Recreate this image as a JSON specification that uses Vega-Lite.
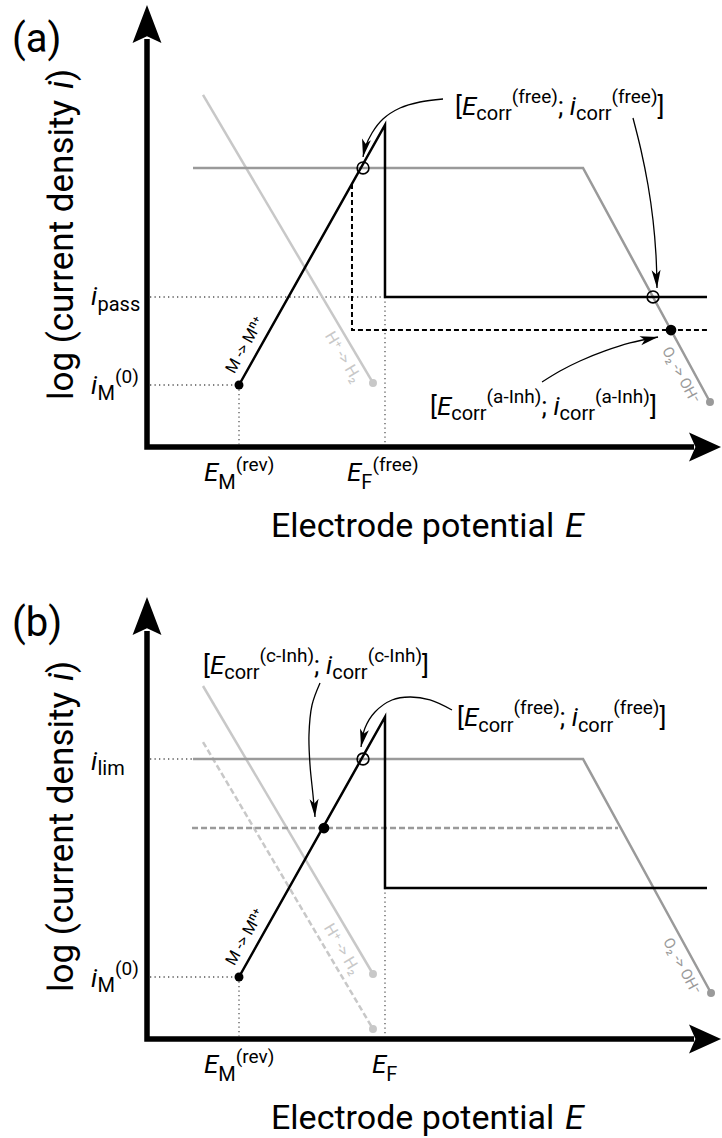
{
"$schema": "https://vega.github.io/schema/vega-lite/v6.json",
"padding": 0,
"background": "white",
"config": {"view": {"stroke": null}, "font": "Roboto"},
"data": {"values": [
{"panel":"a","kind":"axis","grp":"ax","ord":1,"E":0,"L":91.3},
{"panel":"a","kind":"axis","grp":"ax","ord":2,"E":0,"L":0},
{"panel":"a","kind":"axis","grp":"ax","ord":3,"E":95.13,"L":0},
{"panel":"b","kind":"axis","grp":"ax","ord":1,"E":0,"L":91.3},
{"panel":"b","kind":"axis","grp":"ax","ord":2,"E":0,"L":0},
{"panel":"b","kind":"axis","grp":"ax","ord":3,"E":95.13,"L":0},
{"panel":"a","kind":"arrUp","E":0,"L":98.88},
{"panel":"b","kind":"arrUp","E":0,"L":98.88},
{"panel":"a","kind":"arrRight","E":99.83,"L":0},
{"panel":"b","kind":"arrRight","E":99.83,"L":0},

{"panel":"a","kind":"black","grp":"M","ord":1,"E":16.0,"L":13.87},
{"panel":"a","kind":"black","grp":"M","ord":2,"E":41.39,"L":72.04},
{"panel":"a","kind":"black","grp":"M","ord":3,"E":41.39,"L":33.56},
{"panel":"a","kind":"black","grp":"M","ord":4,"E":97.39,"L":33.56},
{"panel":"b","kind":"black","grp":"M","ord":1,"E":16.0,"L":13.87},
{"panel":"b","kind":"black","grp":"M","ord":2,"E":41.39,"L":72.04},
{"panel":"b","kind":"black","grp":"M","ord":3,"E":41.39,"L":33.78},
{"panel":"b","kind":"black","grp":"M","ord":4,"E":97.39,"L":33.78},

{"panel":"a","kind":"gray","grp":"O","ord":1,"E":8.0,"L":62.42},
{"panel":"a","kind":"gray","grp":"O","ord":2,"E":75.83,"L":62.42},
{"panel":"a","kind":"gray","grp":"O","ord":3,"E":97.91,"L":10.07},
{"panel":"b","kind":"gray","grp":"O","ord":1,"E":8.0,"L":62.64},
{"panel":"b","kind":"gray","grp":"O","ord":2,"E":75.83,"L":62.64},
{"panel":"b","kind":"gray","grp":"O","ord":3,"E":98.09,"L":10.29},

{"panel":"a","kind":"lgray","grp":"H","ord":1,"E":9.74,"L":78.75},
{"panel":"a","kind":"lgray","grp":"H","ord":2,"E":39.3,"L":14.32},
{"panel":"b","kind":"lgray","grp":"H","ord":1,"E":9.74,"L":78.97},
{"panel":"b","kind":"lgray","grp":"H","ord":2,"E":39.3,"L":14.54},
{"panel":"b","kind":"lgrayDash","grp":"Hc","ord":1,"E":9.74,"L":66.44},
{"panel":"b","kind":"lgrayDash","grp":"Hc","ord":2,"E":39.3,"L":2.24},
{"panel":"b","kind":"grayDash","grp":"Oc","ord":1,"E":7.83,"L":47.2},
{"panel":"b","kind":"grayDash","grp":"Oc","ord":2,"E":81.91,"L":47.2},
{"panel":"a","kind":"blackDash","grp":"Ma","ord":1,"E":35.65,"L":58.84},
{"panel":"a","kind":"blackDash","grp":"Ma","ord":2,"E":35.65,"L":26.17},
{"panel":"a","kind":"blackDash","grp":"Ma","ord":3,"E":97.39,"L":26.17},

{"panel":"a","kind":"dot","grp":"g1","ord":1,"E":0.52,"L":33.56},
{"panel":"a","kind":"dot","grp":"g1","ord":2,"E":41.39,"L":33.56},
{"panel":"a","kind":"dot","grp":"g2","ord":1,"E":0.52,"L":13.87},
{"panel":"a","kind":"dot","grp":"g2","ord":2,"E":16.0,"L":13.87},
{"panel":"a","kind":"dot","grp":"g3","ord":1,"E":16.0,"L":13.87},
{"panel":"a","kind":"dot","grp":"g3","ord":2,"E":16.0,"L":0.6},
{"panel":"a","kind":"dot","grp":"g4","ord":1,"E":41.39,"L":33.56},
{"panel":"a","kind":"dot","grp":"g4","ord":2,"E":41.39,"L":0.6},
{"panel":"b","kind":"dot","grp":"g1","ord":1,"E":0.52,"L":62.64},
{"panel":"b","kind":"dot","grp":"g1","ord":2,"E":8.0,"L":62.64},
{"panel":"b","kind":"dot","grp":"g2","ord":1,"E":0.52,"L":13.87},
{"panel":"b","kind":"dot","grp":"g2","ord":2,"E":16.0,"L":13.87},
{"panel":"b","kind":"dot","grp":"g3","ord":1,"E":16.0,"L":13.87},
{"panel":"b","kind":"dot","grp":"g3","ord":2,"E":16.0,"L":0.6},
{"panel":"b","kind":"dot","grp":"g4","ord":1,"E":41.39,"L":33.78},
{"panel":"b","kind":"dot","grp":"g4","ord":2,"E":41.39,"L":0.6},

{"panel":"a","kind":"arrow","grp":"a1","ord":1,"E":51.48,"L":77.85},
{"panel":"a","kind":"arrow","grp":"a1","ord":2,"E":47.48,"L":77.18},
{"panel":"a","kind":"arrow","grp":"a1","ord":3,"E":44.0,"L":75.84},
{"panel":"a","kind":"arrow","grp":"a1","ord":4,"E":41.04,"L":73.38},
{"panel":"a","kind":"arrow","grp":"a1","ord":5,"E":39.13,"L":70.25},
{"panel":"a","kind":"arrow","grp":"a1","ord":6,"E":37.91,"L":66.89},
{"panel":"a","kind":"arrow","grp":"a1","ord":7,"E":37.57,"L":64.88},
{"panel":"a","kind":"arrow","grp":"a2","ord":1,"E":84.52,"L":73.6},
{"panel":"a","kind":"arrow","grp":"a2","ord":2,"E":85.91,"L":66.44},
{"panel":"a","kind":"arrow","grp":"a2","ord":3,"E":87.13,"L":58.61},
{"panel":"a","kind":"arrow","grp":"a2","ord":4,"E":88.0,"L":50.78},
{"panel":"a","kind":"arrow","grp":"a2","ord":5,"E":88.52,"L":42.95},
{"panel":"a","kind":"arrow","grp":"a2","ord":6,"E":88.7,"L":35.57},
{"panel":"a","kind":"arrow","grp":"a3","ord":1,"E":68.7,"L":14.54},
{"panel":"a","kind":"arrow","grp":"a3","ord":2,"E":71.83,"L":17.0},
{"panel":"a","kind":"arrow","grp":"a3","ord":3,"E":75.3,"L":19.24},
{"panel":"a","kind":"arrow","grp":"a3","ord":4,"E":79.65,"L":21.48},
{"panel":"a","kind":"arrow","grp":"a3","ord":5,"E":84.0,"L":23.27},
{"panel":"a","kind":"arrow","grp":"a3","ord":6,"E":88.87,"L":24.61},
{"panel":"b","kind":"arrow","grp":"b1","ord":1,"E":30.09,"L":79.64},
{"panel":"b","kind":"arrow","grp":"b1","ord":2,"E":28.7,"L":74.72},
{"panel":"b","kind":"arrow","grp":"b1","ord":3,"E":28.17,"L":68.01},
{"panel":"b","kind":"arrow","grp":"b1","ord":4,"E":28.35,"L":61.3},
{"panel":"b","kind":"arrow","grp":"b1","ord":5,"E":28.87,"L":54.59},
{"panel":"b","kind":"arrow","grp":"b1","ord":6,"E":29.22,"L":49.66},
{"panel":"b","kind":"arrow","grp":"b2","ord":1,"E":53.04,"L":73.6},
{"panel":"b","kind":"arrow","grp":"b2","ord":2,"E":49.22,"L":75.84},
{"panel":"b","kind":"arrow","grp":"b2","ord":3,"E":45.74,"L":76.51},
{"panel":"b","kind":"arrow","grp":"b2","ord":4,"E":42.61,"L":75.84},
{"panel":"b","kind":"arrow","grp":"b2","ord":5,"E":39.65,"L":73.15},
{"panel":"b","kind":"arrow","grp":"b2","ord":6,"E":37.91,"L":69.57},
{"panel":"b","kind":"arrow","grp":"b2","ord":7,"E":37.22,"L":65.32},
{"panel":"a","kind":"headA","E":37.57,"L":64.88},
{"panel":"b","kind":"headA","E":37.22,"L":65.32},
{"panel":"a","kind":"headB","E":88.7,"L":35.57},
{"panel":"b","kind":"headB","E":29.22,"L":49.66},
{"panel":"a","kind":"headC","E":88.87,"L":24.61},

{"panel":"a","kind":"dotBlack","E":16.0,"L":13.87},
{"panel":"b","kind":"dotBlack","E":16.0,"L":13.87},
{"panel":"a","kind":"dotLgray","E":39.3,"L":14.32},
{"panel":"b","kind":"dotLgray","E":39.3,"L":14.54},
{"panel":"b","kind":"dotLgray","E":39.3,"L":2.24},
{"panel":"a","kind":"dotGray","E":97.91,"L":10.07},
{"panel":"b","kind":"dotGray","E":98.09,"L":10.29},
{"panel":"a","kind":"dotBig","E":91.13,"L":26.17},
{"panel":"b","kind":"dotBig","E":30.78,"L":47.2},
{"panel":"a","kind":"circOpen","E":37.57,"L":62.42},
{"panel":"a","kind":"circOpen","E":88.0,"L":33.56},
{"panel":"b","kind":"circOpen","E":37.57,"L":62.64},

{"panel":"a","kind":"pl","E":-23.48,"L":88.37,"txt":"(a)"},
{"panel":"b","kind":"pl","E":-23.48,"L":90.16,"txt":"(b)"},
{"panel":"a","kind":"ytl","E":-12.87,"L":10.51,"txt":"log (current density "},
{"panel":"a","kind":"ytli","E":-12.87,"L":80.09,"txt":"i"},
{"panel":"a","kind":"ytl","E":-12.87,"L":81.88,"txt":")"},
{"panel":"b","kind":"ytl","E":-12.87,"L":10.51,"txt":"log (current density "},
{"panel":"b","kind":"ytli","E":-12.87,"L":80.09,"txt":"i"},
{"panel":"b","kind":"ytl","E":-12.87,"L":81.88,"txt":")"},
{"panel":"a","kind":"xtl","E":21.57,"L":-20.13,"txt":"Electrode potential"},
{"panel":"a","kind":"xtli","E":72.7,"L":-20.13,"txt":"E"},
{"panel":"b","kind":"xtl","E":21.57,"L":-20.13,"txt":"Electrode potential"},
{"panel":"b","kind":"xtli","E":72.7,"L":-20.13,"txt":"E"},

{"panel":"a","kind":"rM","E":17.04,"L":22.82,"txt":"M -> Mⁿ⁺"},
{"panel":"b","kind":"rM","E":17.04,"L":22.82,"txt":"M -> Mⁿ⁺"},
{"panel":"a","kind":"rH","E":34.09,"L":20.13,"txt":"H⁺ -> H₂"},
{"panel":"b","kind":"rH","E":33.91,"L":20.13,"txt":"H⁺ -> H₂"},
{"panel":"a","kind":"rO","E":92.87,"L":16.11,"txt":"O₂ -> OH⁻"},
{"panel":"b","kind":"rO","E":93.04,"L":16.33,"txt":"O₂ -> OH⁻"},

{"panel":"a","kind":"mi","E":-9.74,"L":31.77,"txt":"i"},
{"panel":"a","kind":"sb","E":-8.61,"L":30.43,"txt":"pass"},
{"panel":"a","kind":"mi","E":-9.74,"L":11.86,"txt":"i"},
{"panel":"a","kind":"sb","E":-8.61,"L":10.51,"txt":"M"},
{"panel":"a","kind":"sp","E":-5.57,"L":14.32,"txt":"(0)"},
{"panel":"a","kind":"mi","E":9.91,"L":-7.61,"txt":"E"},
{"panel":"a","kind":"sb","E":12.4,"L":-9.4,"txt":"M"},
{"panel":"a","kind":"sp","E":15.43,"L":-5.37,"txt":"(rev)"},
{"panel":"a","kind":"mi","E":34.78,"L":-7.61,"txt":"E"},
{"panel":"a","kind":"sb","E":37.27,"L":-9.4,"txt":"F"},
{"panel":"a","kind":"sp","E":39.2,"L":-5.37,"txt":"(free)"},
{"panel":"a","kind":"m","E":53.57,"L":74.27,"txt":"["},
{"panel":"a","kind":"mi","E":54.78,"L":74.27,"txt":"E"},
{"panel":"a","kind":"sb","E":57.27,"L":73.15,"txt":"corr"},
{"panel":"a","kind":"sp","E":63.43,"L":76.96,"txt":"(free)"},
{"panel":"a","kind":"m","E":71.46,"L":74.27,"txt":";"},
{"panel":"a","kind":"mi","E":73.53,"L":74.27,"txt":"i"},
{"panel":"a","kind":"sb","E":74.61,"L":73.15,"txt":"corr"},
{"panel":"a","kind":"sp","E":80.77,"L":76.96,"txt":"(free)"},
{"panel":"a","kind":"m","E":88.8,"L":74.27,"txt":"]"},
{"panel":"a","kind":"m","E":49.22,"L":7.16,"txt":"["},
{"panel":"a","kind":"mi","E":50.42,"L":7.16,"txt":"E"},
{"panel":"a","kind":"sb","E":52.9,"L":6.04,"txt":"corr"},
{"panel":"a","kind":"sp","E":59.06,"L":9.84,"txt":"(a-Inh)"},
{"panel":"a","kind":"m","E":68.61,"L":7.16,"txt":";"},
{"panel":"a","kind":"mi","E":70.68,"L":7.16,"txt":"i"},
{"panel":"a","kind":"sb","E":71.76,"L":6.04,"txt":"corr"},
{"panel":"a","kind":"sp","E":77.91,"L":9.84,"txt":"(a-Inh)"},
{"panel":"a","kind":"m","E":87.46,"L":7.16,"txt":"]"},

{"panel":"b","kind":"mi","E":-9.74,"L":60.18,"txt":"i"},
{"panel":"b","kind":"sb","E":-8.61,"L":59.06,"txt":"lim"},
{"panel":"b","kind":"mi","E":-9.74,"L":11.63,"txt":"i"},
{"panel":"b","kind":"sb","E":-8.61,"L":10.51,"txt":"M"},
{"panel":"b","kind":"sp","E":-5.57,"L":14.32,"txt":"(0)"},
{"panel":"b","kind":"mi","E":9.91,"L":-7.61,"txt":"E"},
{"panel":"b","kind":"sb","E":12.4,"L":-9.4,"txt":"M"},
{"panel":"b","kind":"sp","E":15.43,"L":-5.37,"txt":"(rev)"},
{"panel":"b","kind":"mi","E":39.13,"L":-7.61,"txt":"E"},
{"panel":"b","kind":"sb","E":41.62,"L":-9.4,"txt":"F"},
{"panel":"b","kind":"m","E":9.74,"L":81.66,"txt":"["},
{"panel":"b","kind":"mi","E":10.94,"L":81.66,"txt":"E"},
{"panel":"b","kind":"sb","E":13.43,"L":80.54,"txt":"corr"},
{"panel":"b","kind":"sp","E":19.58,"L":84.34,"txt":"(c-Inh)"},
{"panel":"b","kind":"m","E":29.06,"L":81.66,"txt":";"},
{"panel":"b","kind":"mi","E":31.13,"L":81.66,"txt":"i"},
{"panel":"b","kind":"sb","E":32.21,"L":80.54,"txt":"corr"},
{"panel":"b","kind":"sp","E":38.37,"L":84.34,"txt":"(c-Inh)"},
{"panel":"b","kind":"m","E":47.84,"L":81.66,"txt":"]"},
{"panel":"b","kind":"m","E":53.91,"L":70.02,"txt":"["},
{"panel":"b","kind":"mi","E":55.11,"L":70.02,"txt":"E"},
{"panel":"b","kind":"sb","E":57.6,"L":68.68,"txt":"corr"},
{"panel":"b","kind":"sp","E":63.76,"L":72.71,"txt":"(free)"},
{"panel":"b","kind":"m","E":71.79,"L":70.02,"txt":";"},
{"panel":"b","kind":"mi","E":73.86,"L":70.02,"txt":"i"},
{"panel":"b","kind":"sb","E":74.94,"L":68.68,"txt":"corr"},
{"panel":"b","kind":"sp","E":81.1,"L":72.71,"txt":"(free)"},
{"panel":"b","kind":"m","E":89.13,"L":70.02,"txt":"]"}
]},
"facet": {"row": {"field": "panel", "type": "nominal", "header": null}},
"spacing": {"row": 46},
"spec": {
"width": 722,
"height": 546,
"encoding": {
  "x": {"field": "E", "type": "quantitative", "scale": {"domain": [-25.565, 100], "nice": false, "zero": false}, "axis": null},
  "y": {"field": "L", "type": "quantitative", "scale": {"domain": [-22.148, 100], "nice": false, "zero": false}, "axis": null}
},
"layer": [
  {"transform": [{"filter": "datum.kind == 'dot'"}], "mark": {"type": "line", "color": "#555555", "strokeWidth": 1.3, "strokeDash": [1.3, 3.2]}, "encoding": {"detail": {"field": "grp"}, "order": {"field": "ord"}}},
  {"transform": [{"filter": "datum.kind == 'lgray'"}], "mark": {"type": "line", "color": "#c8c8c8", "strokeWidth": 2.5}, "encoding": {"detail": {"field": "grp"}, "order": {"field": "ord"}}},
  {"transform": [{"filter": "datum.kind == 'lgrayDash'"}], "mark": {"type": "line", "color": "#c8c8c8", "strokeWidth": 2.5, "strokeDash": [6, 3]}, "encoding": {"detail": {"field": "grp"}, "order": {"field": "ord"}}},
  {"transform": [{"filter": "datum.kind == 'gray'"}], "mark": {"type": "line", "color": "#9a9a9a", "strokeWidth": 2.5}, "encoding": {"detail": {"field": "grp"}, "order": {"field": "ord"}}},
  {"transform": [{"filter": "datum.kind == 'grayDash'"}], "mark": {"type": "line", "color": "#9a9a9a", "strokeWidth": 2.5, "strokeDash": [6, 3]}, "encoding": {"detail": {"field": "grp"}, "order": {"field": "ord"}}},
  {"transform": [{"filter": "datum.kind == 'blackDash'"}], "mark": {"type": "line", "color": "black", "strokeWidth": 2, "strokeDash": [5, 3]}, "encoding": {"detail": {"field": "grp"}, "order": {"field": "ord"}}},
  {"transform": [{"filter": "datum.kind == 'black'"}], "mark": {"type": "line", "color": "black", "strokeWidth": 2.5, "strokeJoin": "miter"}, "encoding": {"detail": {"field": "grp"}, "order": {"field": "ord"}}},
  {"transform": [{"filter": "datum.kind == 'axis'"}], "mark": {"type": "line", "color": "black", "strokeWidth": 5.5, "strokeJoin": "miter"}, "encoding": {"detail": {"field": "grp"}, "order": {"field": "ord"}}},
  {"transform": [{"filter": "datum.kind == 'arrow'"}], "mark": {"type": "line", "color": "black", "strokeWidth": 1.3, "interpolate": "catmull-rom"}, "encoding": {"detail": {"field": "grp"}, "order": {"field": "ord"}}},
  {"transform": [{"filter": "datum.kind == 'headA'"}], "mark": {"type": "point", "shape": "M0,0L0.25,1L0,0.75L-0.25,1Z", "size": 1296, "angle": 191, "filled": true, "color": "black", "opacity": 1, "strokeWidth": 0}},
  {"transform": [{"filter": "datum.kind == 'headB'"}], "mark": {"type": "point", "shape": "M0,0L0.25,1L0,0.75L-0.25,1Z", "size": 1296, "angle": 177, "filled": true, "color": "black", "opacity": 1, "strokeWidth": 0}},
  {"transform": [{"filter": "datum.kind == 'headC'"}], "mark": {"type": "point", "shape": "M0,0L0.25,1L0,0.75L-0.25,1Z", "size": 1296, "angle": 78, "filled": true, "color": "black", "opacity": 1, "strokeWidth": 0}},
  {"transform": [{"filter": "datum.kind == 'arrUp'"}], "mark": {"type": "point", "shape": "M0,0L0.38,1L0,0.82L-0.38,1Z", "size": 5776, "filled": true, "color": "black", "opacity": 1, "strokeWidth": 0}},
  {"transform": [{"filter": "datum.kind == 'arrRight'"}], "mark": {"type": "point", "shape": "M0,0L0.45,1L0,0.8L-0.45,1Z", "size": 4096, "angle": 90, "filled": true, "color": "black", "opacity": 1, "strokeWidth": 0}},
  {"transform": [{"filter": "datum.kind == 'dotBlack'"}], "mark": {"type": "point", "shape": "circle", "size": 80, "filled": true, "color": "black", "opacity": 1}},
  {"transform": [{"filter": "datum.kind == 'dotLgray'"}], "mark": {"type": "point", "shape": "circle", "size": 64, "filled": true, "color": "#c8c8c8", "opacity": 1}},
  {"transform": [{"filter": "datum.kind == 'dotGray'"}], "mark": {"type": "point", "shape": "circle", "size": 64, "filled": true, "color": "#9a9a9a", "opacity": 1}},
  {"transform": [{"filter": "datum.kind == 'dotBig'"}], "mark": {"type": "point", "shape": "circle", "size": 115, "filled": true, "color": "black", "opacity": 1}},
  {"transform": [{"filter": "datum.kind == 'circOpen'"}], "mark": {"type": "point", "shape": "circle", "size": 140, "filled": false, "stroke": "black", "strokeWidth": 1.6, "opacity": 1}},
  {"transform": [{"filter": "datum.kind == 'pl'"}], "mark": {"type": "text", "font": "Roboto", "fontSize": 40, "align": "left", "baseline": "alphabetic", "color": "black"}, "encoding": {"text": {"field": "txt"}}},
  {"transform": [{"filter": "datum.kind == 'ytl'"}], "mark": {"type": "text", "font": "Roboto", "fontSize": 35, "angle": 270, "align": "left", "baseline": "alphabetic", "color": "black"}, "encoding": {"text": {"field": "txt"}}},
  {"transform": [{"filter": "datum.kind == 'ytli'"}], "mark": {"type": "text", "font": "Roboto", "fontSize": 35, "fontStyle": "italic", "angle": 270, "align": "left", "baseline": "alphabetic", "color": "black"}, "encoding": {"text": {"field": "txt"}}},
  {"transform": [{"filter": "datum.kind == 'xtl'"}], "mark": {"type": "text", "font": "Roboto", "fontSize": 34, "align": "left", "baseline": "alphabetic", "color": "black"}, "encoding": {"text": {"field": "txt"}}},
  {"transform": [{"filter": "datum.kind == 'xtli'"}], "mark": {"type": "text", "font": "Roboto", "fontSize": 34, "fontStyle": "italic", "align": "left", "baseline": "alphabetic", "color": "black"}, "encoding": {"text": {"field": "txt"}}},
  {"transform": [{"filter": "datum.kind == 'rM'"}], "mark": {"type": "text", "font": "Roboto", "fontSize": 16, "angle": 299.3, "align": "center", "baseline": "middle", "color": "black"}, "encoding": {"text": {"field": "txt"}}},
  {"transform": [{"filter": "datum.kind == 'rH'"}], "mark": {"type": "text", "font": "Roboto", "fontSize": 16, "angle": 59.4, "align": "center", "baseline": "middle", "color": "#c8c8c8"}, "encoding": {"text": {"field": "txt"}}},
  {"transform": [{"filter": "datum.kind == 'rO'"}], "mark": {"type": "text", "font": "Roboto", "fontSize": 15, "angle": 61.5, "align": "center", "baseline": "middle", "color": "#9a9a9a"}, "encoding": {"text": {"field": "txt"}}},
  {"transform": [{"filter": "datum.kind == 'm'"}], "mark": {"type": "text", "font": "Roboto", "fontSize": 26, "align": "left", "baseline": "alphabetic", "color": "black"}, "encoding": {"text": {"field": "txt"}}},
  {"transform": [{"filter": "datum.kind == 'mi'"}], "mark": {"type": "text", "font": "Roboto", "fontSize": 26, "fontStyle": "italic", "align": "left", "baseline": "alphabetic", "color": "black"}, "encoding": {"text": {"field": "txt"}}},
  {"transform": [{"filter": "datum.kind == 'sb'"}], "mark": {"type": "text", "font": "Roboto", "fontSize": 20, "align": "left", "baseline": "alphabetic", "color": "black"}, "encoding": {"text": {"field": "txt"}}},
  {"transform": [{"filter": "datum.kind == 'sp'"}], "mark": {"type": "text", "font": "Roboto", "fontSize": 19, "align": "left", "baseline": "alphabetic", "color": "black"}, "encoding": {"text": {"field": "txt"}}}
]
}
}
